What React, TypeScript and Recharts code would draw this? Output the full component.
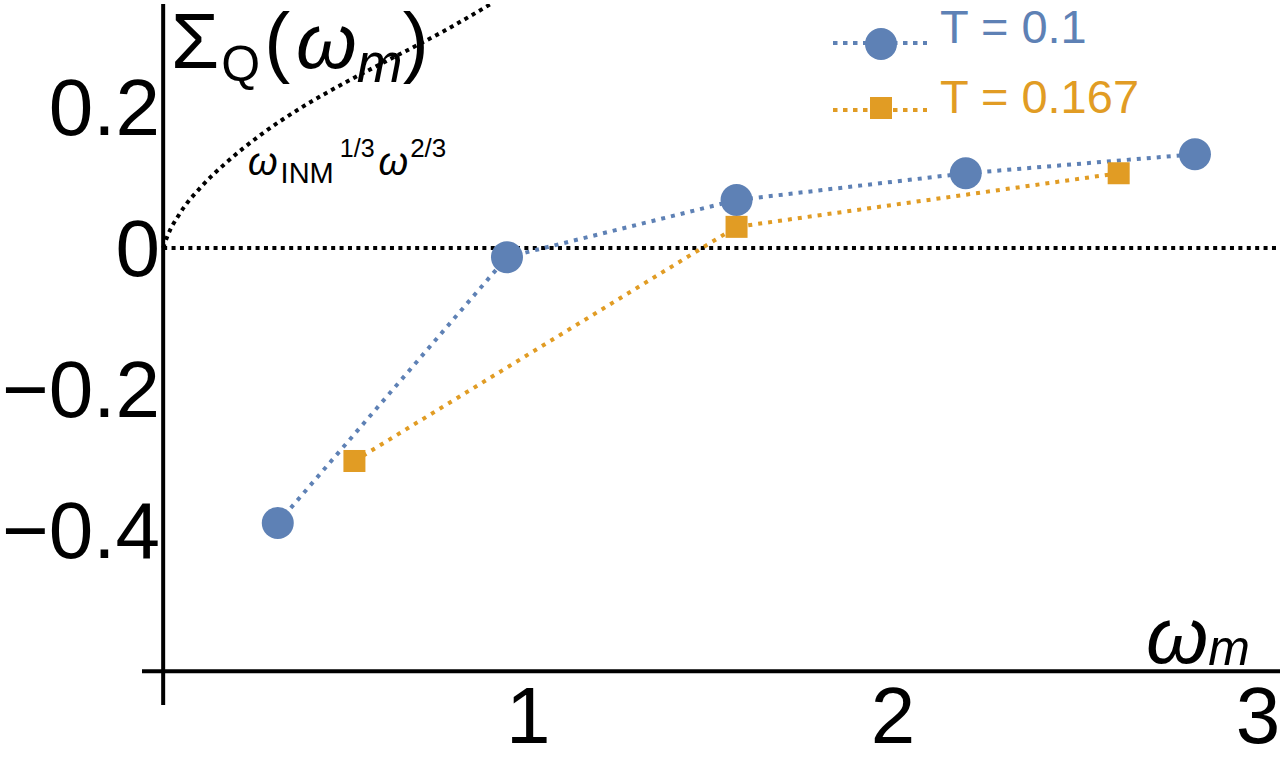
import React from "react";
import {
  ComposedChart,
  Line,
  XAxis,
  YAxis,
  ReferenceLine,
  Legend,
} from "recharts";

// ---------- data ----------
const blueX = [0.314, 0.942, 1.571, 2.199, 2.827];
const blueY = [-0.39, -0.013, 0.068, 0.106, 0.133];

const orangeX = [0.524, 1.571, 2.618];
const orangeY = [-0.302, 0.03, 0.106];

const curveX = [0, 0.011, 0.047, 0.101, 0.175, 0.266, 0.375, 0.504, 0.63, 0.767, 0.904];
const curveY = [0, 0.016, 0.05, 0.085, 0.122, 0.16, 0.198, 0.236, 0.27, 0.307, 0.348];

const xTicks = [1, 2, 3];
const yTicks = [-0.4, -0.2, 0, 0.2];
const yTickLabels = ["\u22120.4", "\u22120.2", "0", "0.2"];

const legendLabels = ["T = 0.1", "T = 0.167"];

const X_DOMAIN: [number, number] = [-0.058, 3.06];
const Y_DOMAIN: [number, number] = [-0.648, 0.346];
const AXIS_Y = -0.6;

// ---------- styles ----------
const BLUE = "#5E81B5";
const ORANGE = "#E19C24";
const FONT = "'Liberation Sans', Arial, sans-serif";
const SERIES_DASH = "4 6";
const BLACK_DASH = "4 4.4";
const DOT_W = 4;

const zip = (xs: number[], ys: number[]) => xs.map((x, i) => ({ x, y: ys[i] }));
const blueData = zip(blueX, blueY);
const orangeData = zip(orangeX, orangeY);
const curveData = zip(curveX, curveY);

const SquareDot = (props: any) => {
  const { cx, cy, index } = props;
  if (cx == null || cy == null) return <g key={index} />;
  return <rect key={index} x={cx - 11} y={cy - 11} width={22} height={22} fill={ORANGE} />;
};

const XTick = (props: any) => {
  const { x, payload } = props;
  return (
    <text x={x} y={743} textAnchor="middle" fontSize={80} fontFamily={FONT} fill="#000">
      {payload.value}
    </text>
  );
};

const YTick = (props: any) => {
  const { y, payload } = props;
  const i = yTicks.indexOf(payload.value);
  return (
    <text x={160} y={y} dy={28} textAnchor="end" fontSize={80} fontFamily={FONT} fill="#000">
      {i >= 0 ? yTickLabels[i] : payload.value}
    </text>
  );
};

const LegendContent = () => (
  <svg width={360} height={140} style={{ display: "block" }}>
    <line x1={13} y1={43} x2={107} y2={43} stroke={BLUE} strokeWidth={DOT_W} strokeDasharray="4.5 5.5" />
    <circle cx={61} cy={44} r={16} fill={BLUE} />
    <text x={120} y={43} fontSize={47} fontFamily={FONT} fill={BLUE}>
      {legendLabels[0]}
    </text>
    <line x1={13} y1={110} x2={107} y2={110} stroke={ORANGE} strokeWidth={DOT_W} strokeDasharray="4.5 5.5" />
    <rect x={50} y={97} width={22} height={22} fill={ORANGE} />
    <text x={120} y={113} fontSize={47} fontFamily={FONT} fill={ORANGE}>
      {legendLabels[1]}
    </text>
  </svg>
);

export default function App() {
  return (
    <div style={{ position: "absolute", left: 0, top: 0, width: 1280, height: 762, background: "#fff" }}>
      <ComposedChart width={1280} height={762} margin={{ top: 4, right: 0, bottom: 0, left: 0 }}>
        <XAxis
          type="number"
          dataKey="x"
          domain={X_DOMAIN}
          allowDataOverflow
          ticks={xTicks}
          height={57}
          axisLine={false}
          tickLine={false}
          tick={<XTick />}
          interval={0}
        />
        <YAxis
          type="number"
          dataKey="y"
          domain={Y_DOMAIN}
          allowDataOverflow
          ticks={yTicks}
          width={142}
          axisLine={false}
          tickLine={false}
          tick={<YTick />}
          interval={0}
        />
        <ReferenceLine x={0} stroke="#000" strokeWidth={4} />
        <ReferenceLine y={AXIS_Y} stroke="#000" strokeWidth={4} />
        <ReferenceLine
          segment={[
            { x: 0, y: 0 },
            { x: X_DOMAIN[1], y: 0 },
          ]}
          stroke="#000"
          strokeWidth={DOT_W}
          strokeDasharray={BLACK_DASH}
        />
        <Line
          data={curveData}
          dataKey="y"
          type="monotone"
          stroke="#000"
          strokeWidth={DOT_W}
          strokeDasharray={BLACK_DASH}
          dot={false}
          activeDot={false}
          isAnimationActive={false}
        />
        <Line
          data={blueData}
          dataKey="y"
          type="linear"
          stroke={BLUE}
          strokeWidth={DOT_W}
          strokeDasharray={SERIES_DASH}
          dot={{ r: 16, fill: BLUE, stroke: "none" }}
          activeDot={false}
          isAnimationActive={false}
        />
        <Line
          data={orangeData}
          dataKey="y"
          type="linear"
          stroke={ORANGE}
          strokeWidth={DOT_W}
          strokeDasharray={SERIES_DASH}
          dot={<SquareDot />}
          activeDot={false}
          isAnimationActive={false}
        />
        <Legend
          layout="horizontal"
          verticalAlign="middle"
          align="center"
          content={<LegendContent />}
          wrapperStyle={{ left: 820, top: 0, width: 360, height: 140 }}
        />
        <text x={171} y={68} fontFamily={FONT} fontSize={78} fill="#000">
          Σ
          <tspan fontSize={50} dx={2} dy={13}>Q</tspan>
          <tspan fontSize={78} dx={4} dy={-13}>(</tspan>
          <tspan fontStyle="italic" dx={6}>ω</tspan>
          <tspan fontSize={55} fontStyle="italic" dy={14}>m</tspan>
          <tspan fontSize={78} dy={-14}>)</tspan>
        </text>
        <text x={248} y={175} fontFamily={FONT} fontSize={38} fill="#000">
          <tspan fontStyle="italic">ω</tspan>
          <tspan fontSize={29} dx={3} dy={8}>INM</tspan>
          <tspan fontSize={25} dx={6} dy={-26}>1/3</tspan>
          <tspan fontSize={38} fontStyle="italic" dx={4} dy={18}>ω</tspan>
          <tspan fontSize={26} dx={2} dy={-18}>2/3</tspan>
        </text>
        <text x={1146} y={663} fontFamily={FONT} fontSize={80} fill="#000">
          <tspan fontStyle="italic">ω</tspan>
          <tspan fontSize={50} fontStyle="italic" dy={2}>m</tspan>
        </text>
      </ComposedChart>
    </div>
  );
}
